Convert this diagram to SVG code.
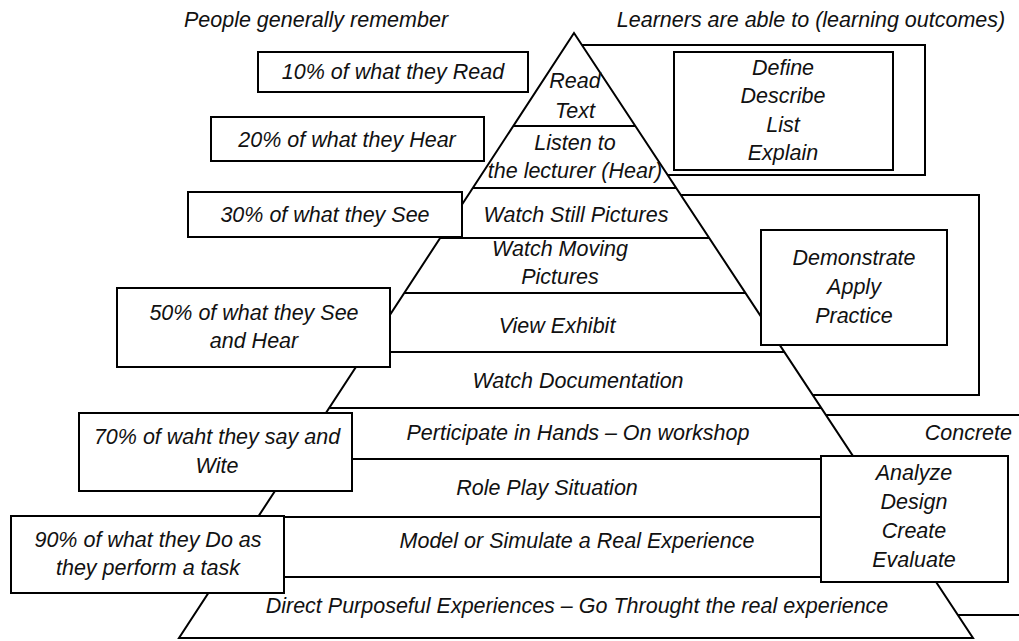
<svg xmlns="http://www.w3.org/2000/svg" width="1019" height="641" viewBox="0 0 1019 641">
<style>
  text { font-family: "Liberation Sans", Arial, sans-serif; font-style: italic; font-size: 21.5px; fill: #111; text-anchor: middle; }
  .box { fill: #fff; stroke: #000; stroke-width: 2; }
  .outer { fill: none; stroke: #000; stroke-width: 2; }
  .tri { fill: #fff; stroke: #000; stroke-width: 2; stroke-linejoin: miter; }
  .band { stroke: #000; stroke-width: 2; fill: none; }
</style>
<rect width="1019" height="641" fill="#fff"/>

<g id="headings">
  <text x="316" y="27">People generally remember</text>
  <text x="811" y="27">Learners are able to (learning outcomes)</text>
</g>

<g id="outcome-frames">
  <path class="outer" d="M582,45 H925 V175 H668"/>
  <path class="outer" d="M681,195 H979 V395 H813"/>
  <path class="outer" d="M826,415 H1025 M958,615 H1025"/>
</g>

<g id="pyramid">
  <polygon class="tri" points="574,33 179,638 973,638"/>
  <g id="connectors">
    <line class="band" x1="513" y1="126" x2="635" y2="126"/>
    <line class="band" x1="473" y1="188" x2="676" y2="188"/>
    <line class="band" x1="440" y1="238" x2="709" y2="238"/>
    <line class="band" x1="404" y1="293" x2="745" y2="293"/>
    <line class="band" x1="366" y1="352" x2="784" y2="352"/>
    <line class="band" x1="330" y1="408" x2="821" y2="408"/>
    <line class="band" x1="296" y1="459" x2="855" y2="459"/>
    <line class="band" x1="258" y1="517" x2="893" y2="517"/>
    <line class="band" x1="219" y1="577" x2="933" y2="577"/>
  </g>
  <g id="level-1"><text x="575" y="88">Read</text><text x="575" y="118">Text</text></g>
  <g id="level-2"><text x="575" y="150">Listen to</text><text x="575" y="178">the lecturer (Hear)</text></g>
  <g id="level-3"><text x="576" y="222">Watch Still Pictures</text></g>
  <g id="level-4"><text x="560" y="256">Watch Moving</text><text x="560" y="284">Pictures</text></g>
  <g id="level-5"><text x="557" y="333">View Exhibit</text></g>
  <g id="level-6"><text x="578" y="388">Watch Documentation</text></g>
  <g id="level-7"><text x="578" y="440">Perticipate in Hands – On workshop</text></g>
  <g id="level-8"><text x="547" y="495">Role Play Situation</text></g>
  <g id="level-9"><text x="577" y="548">Model or Simulate a Real Experience</text></g>
  <g id="level-10"><text x="577" y="613">Direct Purposeful Experiences – Go Throught the real experience</text></g>
</g>

<g id="concrete"><text x="1012" y="440" style="text-anchor:end">Concrete</text></g>

<g id="outcome-1">
  <rect class="box" x="674" y="52" width="219" height="118"/>
  <text x="783" y="75">Define</text>
  <text x="783" y="103">Describe</text>
  <text x="783" y="132">List</text>
  <text x="783" y="160">Explain</text>
</g>
<g id="outcome-2">
  <rect class="box" x="761" y="230" width="186" height="115"/>
  <text x="854" y="265">Demonstrate</text>
  <text x="854" y="294">Apply</text>
  <text x="854" y="323">Practice</text>
</g>
<g id="outcome-3">
  <rect class="box" x="821" y="456" width="187" height="126"/>
  <text x="914" y="480">Analyze</text>
  <text x="914" y="509">Design</text>
  <text x="914" y="538">Create</text>
  <text x="914" y="567">Evaluate</text>
</g>

<g id="remember-10">
  <rect class="box" x="258" y="52" width="270" height="40"/>
  <text x="393" y="79">10% of what they Read</text>
</g>
<g id="remember-20">
  <rect class="box" x="211" y="117" width="273" height="44"/>
  <text x="347" y="147">20% of what they Hear</text>
</g>
<g id="remember-30">
  <rect class="box" x="188" y="192" width="274" height="45"/>
  <text x="325" y="222">30% of what they See</text>
</g>
<g id="remember-50">
  <rect class="box" x="117" y="288" width="273" height="79"/>
  <text x="254" y="320">50% of what they See</text>
  <text x="254" y="348">and Hear</text>
</g>
<g id="remember-70">
  <rect class="box" x="79" y="413" width="273" height="78"/>
  <text x="217" y="444">70% of waht they say and</text>
  <text x="217" y="473">Wite</text>
</g>
<g id="remember-90">
  <rect class="box" x="11" y="516" width="273" height="77"/>
  <text x="148" y="547">90% of what they Do as</text>
  <text x="148" y="575">they perform a task</text>
</g>
</svg>
